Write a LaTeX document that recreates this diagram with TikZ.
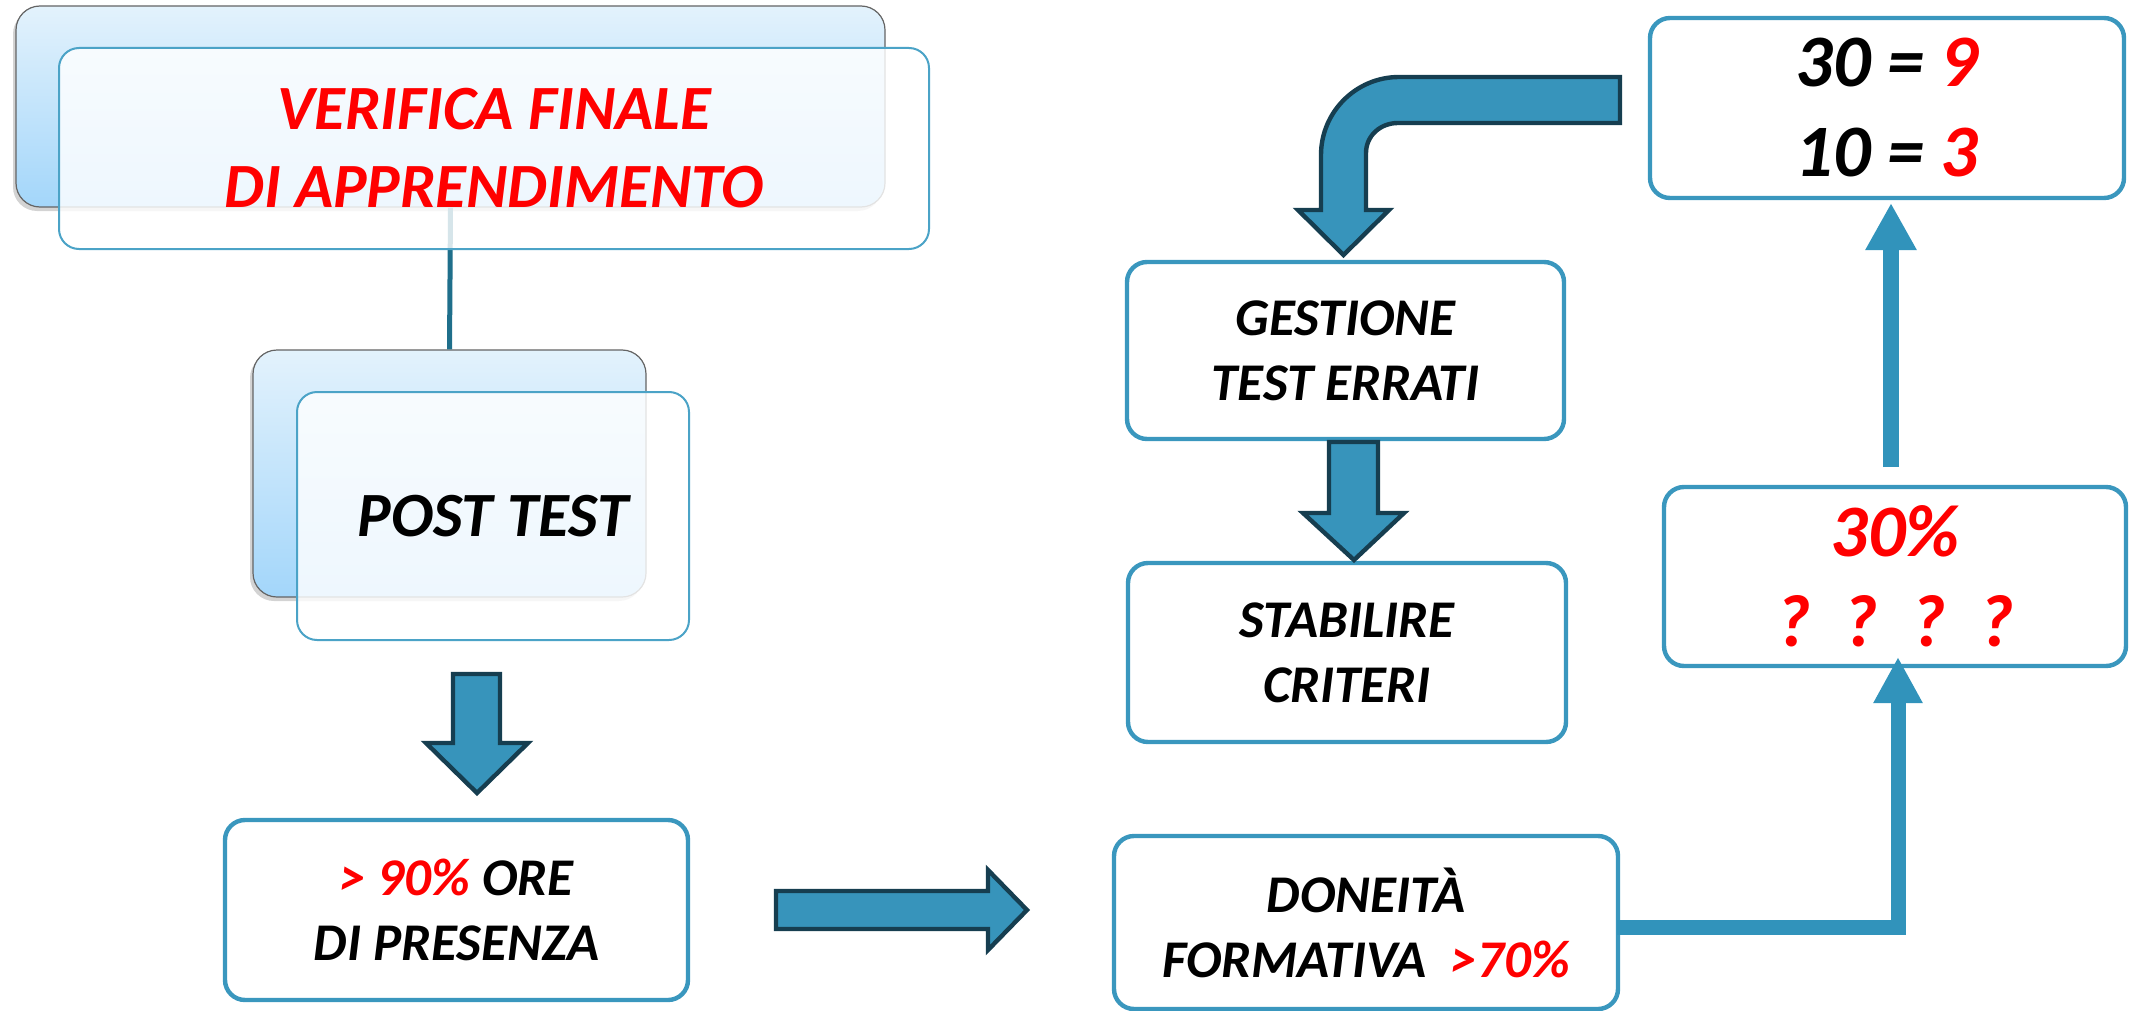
\documentclass[tikz,border=0pt]{standalone}
\usepackage{fontspec}
\setmainfont{Carlito}
\usetikzlibrary{shadows,arrows.meta}
\definecolor{boxteal}{RGB}{58,151,190}
\definecolor{frontteal}{RGB}{75,163,199}
\definecolor{arrfill}{RGB}{55,148,187}
\definecolor{arrline}{RGB}{22,62,80}
\definecolor{thinarr}{RGB}{49,147,187}
\definecolor{linkcol}{RGB}{31,111,139}
\definecolor{gradtop}{RGB}{227,242,252}
\definecolor{gradbot}{RGB}{163,214,250}
\definecolor{backline}{RGB}{100,100,100}
\definecolor{txtred}{RGB}{255,0,0}
\newcommand\vfbig{\fontsize{31.5pt}{39pt}\selectfont\bfseries\itshape}
\newcommand\vfmid{\fontsize{26.5pt}{32.5pt}\selectfont\bfseries\itshape}
\newcommand\vfhuge{\fontsize{37pt}{45pt}\selectfont\bfseries\itshape}
\tikzset{
 backbox/.style={rectangle, rounded corners=12pt, draw=backline, line width=0.6pt,
   top color=gradtop, bottom color=gradbot, inner sep=0pt,
   drop shadow={shadow xshift=-1.5pt, shadow yshift=-2pt, opacity=0.35}},
 frontbox/.style={rectangle, rounded corners=10pt, draw=frontteal, line width=1pt,
   fill=white, fill opacity=0.82, text opacity=1, align=center, inner sep=0pt, font=\vfbig},
 stepbox/.style={rectangle, rounded corners=10pt, draw=boxteal, line width=2.2pt,
   fill=white, align=center, inner sep=0pt},
 blockarrow/.style={fill=arrfill, draw=arrline, line width=2.2pt, line join=miter},
 thinarrow/.style={draw=thinarr, line width=7.5pt, -{Triangle[length=23pt,width=23pt]}},
 linkline/.style={draw=linkcol, line width=2.5pt},
}
\begin{document}
\begin{tikzpicture}[x=0.5pt,y=-0.5pt]
\useasboundingbox (0,0) rectangle (2136,1011);

% VERIFICA FINALE group
\node[backbox, minimum width=434.5pt, minimum height=100.5pt] (verback) at (450.5,106.5) {};
\node[backbox, minimum width=196.5pt, minimum height=123.5pt] (postback) at (449.5,473.5) {};
\draw[linkline] (verback.south) -- (postback.north);
\node[frontbox, text=txtred, minimum width=435pt, minimum height=100.5pt] (verfront) at (494,148.5)
  {VERIFICA FINALE\\DI APPRENDIMENTO};
\node[frontbox, minimum width=196pt, minimum height=124pt] (postfront) at (493,516) {POST TEST};

% left bottom box
\node[stepbox, font=\vfmid, minimum width=231.5pt, minimum height=90pt] (ore) at (456.5,910)
  {{\color{txtred}> 90\%} ORE\\DI PRESENZA};

% middle column
\node[stepbox, font=\vfmid, minimum width=218.5pt, minimum height=88.5pt] (gest) at (1345.5,350.5)
  {GESTIONE\\TEST ERRATI};
\node[stepbox, font=\vfmid, minimum width=219pt, minimum height=89.5pt] (stab) at (1347,652.5)
  {STABILIRE\\CRITERI};
\node[stepbox, font=\vfmid, minimum width=252pt, minimum height=86.5pt] (don) at (1366,922.5)
  {DONEITÀ\\FORMATIVA\ \ {\color{txtred}>70\%}};

% right column
\node[stepbox, font=\vfhuge, minimum width=237pt, minimum height=90pt] (ris) at (1887,108)
  {30 = {\color{txtred}9}\\10 = {\color{txtred}3}};
\node[stepbox, font=\vfhuge, text=txtred, minimum width=231pt, minimum height=89.5pt] (perc) at (1895,576.5)
  {30\%\\?\ \ ?\ \ ?\ \ ?};

% block arrows
\draw[blockarrow] (453,674) -- (500,674) -- (500,743) -- (528,743) -- (477,793)
  -- (426,743) -- (453,743) -- cycle;
\draw[blockarrow] (1329,442) -- (1378,442) -- (1378,513) -- (1404,513) -- (1354,560)
  -- (1303,513) -- (1329,513) -- cycle;
\draw[blockarrow] (776,891) -- (988,891) -- (988,870) -- (1027,910) -- (988,950)
  -- (988,929) -- (776,929) -- cycle;
\draw[blockarrow] (1620,77) -- (1399,77) .. controls (1356,77) and (1321,112) .. (1321,155)
  -- (1321,210) -- (1298,210) -- (1343.5,255) -- (1389,210) -- (1366,210) -- (1366,153)
  .. controls (1366,136) and (1380,123) .. (1398,123) -- (1620,123) -- cycle;

% thin arrows
\coordinate (upstart) at (1891,467);
\coordinate (upend) at (1891,203);
\draw[thinarrow, line width=8pt, -{Triangle[length=23.5pt,width=24pt]}] (upstart) -- (upend);
\coordinate (donout) at (1617,927.5);
\coordinate (percin) at (1898,657);
\draw[thinarrow] (donout) -| (percin);
\end{tikzpicture}
\end{document}
